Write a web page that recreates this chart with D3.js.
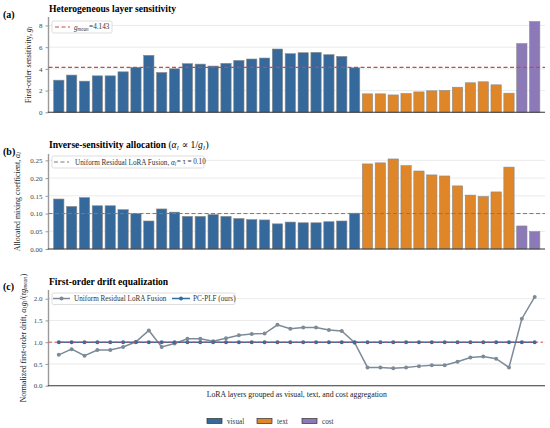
<!doctype html>
<html>
<head>
<meta charset="utf-8">
<script src="https://cdn.jsdelivr.net/npm/d3@7"></script>
<style>
  body { margin: 0; background: #fff; }
  svg { font-family: "Liberation Serif", "DejaVu Serif", serif; }
</style>
</head>
<body>
<svg id="chart" width="550" height="428"></svg>
<script>
// groups of LoRA layers
const groups = ["visual", "text", "cost"];
const groupColors = ["#36699b", "#df8629", "#8c79b7"];
const groupSizes = [24, 12, 2];

// (a) first-order sensitivity g_l
const sensVisual = [2.96, 3.43, 2.87, 3.36, 3.36, 3.73, 4.14, 5.25, 3.67, 4.01, 4.48, 4.44,
                    4.26, 4.51, 4.78, 4.91, 5.00, 5.83, 5.40, 5.49, 5.52, 5.31, 5.15, 4.10];
const sensText = [1.70, 1.70, 1.60, 1.73, 1.88, 1.98, 2.01, 2.31, 2.72, 2.81, 2.53, 1.76];
const sensCost = [6.33, 8.36];
const gMean = 4.143;

// (b) allocated mixing coefficient alpha_l
const alphaVisual = [0.141, 0.120, 0.145, 0.122, 0.122, 0.111, 0.100, 0.079, 0.113, 0.104, 0.092, 0.092,
                     0.097, 0.092, 0.086, 0.083, 0.082, 0.071, 0.076, 0.074, 0.074, 0.077, 0.079, 0.101];
const alphaText = [0.240, 0.243, 0.254, 0.235, 0.220, 0.209, 0.206, 0.178, 0.152, 0.148, 0.161, 0.231];
const alphaCost = [0.065, 0.049];
const tau = 0.10;

// (c) normalized first-order drift
const driftUniform = [0.71, 0.84, 0.69, 0.82, 0.82, 0.89, 1.01, 1.27, 0.89, 0.97, 1.08, 1.08,
                      1.02, 1.09, 1.16, 1.19, 1.20, 1.40, 1.31, 1.34, 1.34, 1.28, 1.26, 0.99,
                      0.42, 0.42, 0.40, 0.42, 0.45, 0.47, 0.47, 0.55, 0.65, 0.67, 0.62, 0.42,
                      1.54, 2.04];
const driftOurs = [1, 1, 1, 1, 1, 1, 1, 1, 1, 1, 1, 1, 1, 1, 1, 1, 1, 1, 1, 1, 1, 1, 1, 1,
                   1, 1, 1, 1, 1, 1, 1, 1, 1, 1, 1, 1, 1, 1];

const svg = d3.select("#chart");
const nLayers = 38;
const x = d3.scaleLinear().domain([-0.8, nLayers - 0.2]).range([48.5, 545]);
const barW = x(0.8) - x(0);

// group of each layer index
let layerGroup = [];
groupSizes.forEach((n, gi) => { for (let k = 0; k < n; k++) layerGroup.push(gi); });

function toRows(v, t, c) {
    return v.concat(t, c).map((val, i) => ({i: i, v: val, g: layerGroup[i]}));
}

function axesFrame(top, bottom, ymax, ticks, fmt) {
    const y = d3.scaleLinear().domain([0, ymax]).range([bottom, top]);
    const g = svg.append("g");
    // grid
    g.selectAll("line.grid").data(ticks).join("line")
        .attr("x1", x.range()[0]).attr("x2", x.range()[1])
        .attr("y1", d => y(d)).attr("y2", d => y(d))
        .attr("stroke", "#e6e6e6").attr("stroke-width", 0.8);
    // y axis
    const ax = g.append("g").attr("transform", `translate(${x.range()[0]},0)`)
        .call(d3.axisLeft(y).tickValues(ticks).tickFormat(fmt).tickSize(3).tickPadding(3));
    ax.select(".domain").remove();
    ax.selectAll(".tick line").attr("stroke", "#999");
    ax.selectAll(".tick text").attr("fill", "#444").attr("font-size", 7)
        .attr("font-family", "Liberation Serif, serif");
    g.append("line").attr("x1", x.range()[0]).attr("x2", x.range()[0])
        .attr("y1", top).attr("y2", bottom).attr("stroke", "#9a9a9a").attr("stroke-width", 1.4);
    return {y: y, g: g, top: top, bottom: bottom};
}

function bottomSpine(p) {
    p.g.append("line").attr("x1", x.range()[0] - 0.7).attr("x2", x.range()[1])
        .attr("y1", p.bottom).attr("y2", p.bottom).attr("stroke", "#3a3a3a").attr("stroke-width", 1.1);
}

function drawBars(p, rows) {
    p.g.selectAll("rect.bar").data(rows).join("rect")
        .attr("x", d => x(d.i) - barW / 2).attr("width", barW)
        .attr("y", d => p.y(d.v)).attr("height", d => p.y(0) - p.y(d.v))
        .attr("fill", d => groupColors[d.g])
        .attr("stroke", "#8a8a8a").attr("stroke-width", 0.6);
}

function title(yb, label, parts) {
    svg.append("text").attr("x", 3).attr("y", yb[0]).attr("font-size", 10)
        .attr("font-weight", "bold").text(label);
    const t = svg.append("text").attr("x", 49).attr("y", yb[1]).attr("font-size", 9.6)
        .attr("font-weight", "bold");
    parts(t);
}

function ylabel(cx, cy, parts) {
    const t = svg.append("text").attr("transform", `translate(${cx},${cy}) rotate(-90)`)
        .attr("text-anchor", "middle").attr("font-size", 7.8).attr("fill", "#222");
    parts(t);
}

// italic base with a small subscript, shifted with dy and shifted back
function sub(t, base, s, italic) {
    t.append("tspan").attr("font-style", italic ? "italic" : null).text(base);
    t.append("tspan").attr("font-style", "italic").attr("font-size", "70%")
        .attr("dy", "0.25em").text(s);
    t.append("tspan").attr("dy", "-0.18em").text("\u200a");
}

function legendBox(x0, y0, w, h) {
    svg.append("rect").attr("x", x0).attr("y", y0).attr("width", w).attr("height", h)
        .attr("rx", 1.5).attr("fill", "#fff").attr("fill-opacity", 0.9)
        .attr("stroke", "#d0d0d0").attr("stroke-width", 0.7);
}

// ---- panel (a)
const pa = axesFrame(17, 112.3, 8.78, [0, 2, 4, 6, 8], d3.format("d"));
drawBars(pa, toRows(sensVisual, sensText, sensCost));
pa.g.append("line").attr("x1", x.range()[0]).attr("x2", x.range()[1])
    .attr("y1", pa.y(gMean)).attr("y2", pa.y(gMean))
    .attr("stroke", "#c9484a").attr("stroke-width", 1.1).attr("stroke-dasharray", "4,2.5");
bottomSpine(pa);
title([18, 12], "(a)", t => t.text("Heterogeneous layer sensitivity"));
ylabel(31, 64.5, t => { t.append("tspan").text("First-order sensitivity, "); sub(t, "g", "l", true); });
legendBox(52, 21, 60, 12);
svg.append("line").attr("x1", 55).attr("x2", 70).attr("y1", 27).attr("y2", 27)
    .attr("stroke", "#c9484a").attr("stroke-width", 1.1).attr("stroke-dasharray", "4,2.5");
{
    const t = svg.append("text").attr("x", 74).attr("y", 29.5).attr("font-size", 7.2).attr("fill", "#333");
    sub(t, "g", "mean", true);
    t.append("tspan").text("=" + gMean.toFixed(3));
}

// ---- panel (b)
const pb = axesFrame(154, 249, 0.268, [0, 0.05, 0.10, 0.15, 0.20, 0.25], d3.format(".2f"));
drawBars(pb, toRows(alphaVisual, alphaText, alphaCost));
pb.g.append("line").attr("x1", x.range()[0]).attr("x2", x.range()[1])
    .attr("y1", pb.y(tau)).attr("y2", pb.y(tau))
    .attr("stroke", "#7a7a7a").attr("stroke-width", 1.0).attr("stroke-dasharray", "4,2.5");
bottomSpine(pb);
title([155, 148], "(b)", t => {
    t.append("tspan").text("Inverse-sensitivity allocation ");
    const m = t.append("tspan").attr("font-weight", "normal");
    m.append("tspan").text("(");
    sub(m, "α", "l", true);
    m.append("tspan").text(" ∝ 1/");
    sub(m, "g", "l", true);
    m.append("tspan").text(")");
});
ylabel(20, 201.5, t => { t.append("tspan").text("Allocated mixing coefficient, "); sub(t, "α", "l", true); });
legendBox(52, 156, 152, 12);
svg.append("line").attr("x1", 54).attr("x2", 69).attr("y1", 162).attr("y2", 162)
    .attr("stroke", "#7a7a7a").attr("stroke-width", 1.0).attr("stroke-dasharray", "4,2.5");
{
    const t = svg.append("text").attr("x", 75).attr("y", 164.5).attr("font-size", 7.2).attr("fill", "#333");
    t.append("tspan").text("Uniform Residual LoRA Fusion, ");
    sub(t, "α", "l", true);
    t.append("tspan").text("= τ = " + tau.toFixed(2));
}

// ---- panel (c)
const pc = axesFrame(290, 385.7, 2.2, [0, 0.5, 1.0, 1.5, 2.0], d3.format(".1f"));
const line = d3.line().x((d, i) => x(i)).y(d => pc.y(d));
const uniColor = "#7d8a98", oursColor = "#2f6ea3";
pc.g.append("path").datum(driftUniform).attr("d", line)
    .attr("fill", "none").attr("stroke", uniColor).attr("stroke-width", 1.5);
pc.g.selectAll("circle.uni").data(driftUniform).join("circle")
    .attr("cx", (d, i) => x(i)).attr("cy", d => pc.y(d)).attr("r", 2).attr("fill", uniColor);
pc.g.append("path").datum(driftOurs).attr("d", line)
    .attr("fill", "none").attr("stroke", oursColor).attr("stroke-width", 1.5);
pc.g.selectAll("circle.ours").data(driftOurs).join("circle")
    .attr("cx", (d, i) => x(i)).attr("cy", d => pc.y(d)).attr("r", 2).attr("fill", oursColor);
pc.g.append("line").attr("x1", x.range()[0]).attr("x2", x.range()[1] - 2)
    .attr("y1", pc.y(1)).attr("y2", pc.y(1))
    .attr("stroke", "#d9464a").attr("stroke-width", 0.9).attr("stroke-dasharray", "3.5,2.5");
bottomSpine(pc);
title([290, 285], "(c)", t => t.text("First-order drift equalization"));
ylabel(26, 338, t => {
    t.append("tspan").text("Normalized first-order drift, ");
    sub(t, "α", "l", true);
    sub(t, "g", "l", true);
    t.append("tspan").text("/(");
    t.append("tspan").attr("font-style", "italic").text("τ");
    sub(t, "g", "mean", true);
    t.append("tspan").text(")");
});
svg.append("text").attr("x", x.range()[0] / 2 + x.range()[1] / 2).attr("y", 397)
    .attr("text-anchor", "middle").attr("font-size", 7.8).attr("fill", "#222")
    .text("LoRA layers grouped as visual, text, and cost aggregation");
legendBox(52, 293, 183, 11.5);
[[53, 70, uniColor, 74, "Uniform Residual LoRA Fusion"], [172, 190, oursColor, 193, "PC-PLF (ours)"]].forEach(r => {
    svg.append("line").attr("x1", r[0]).attr("x2", r[1]).attr("y1", 298.5).attr("y2", 298.5)
        .attr("stroke", r[2]).attr("stroke-width", 1.5);
    svg.append("circle").attr("cx", (r[0] + r[1]) / 2).attr("cy", 298.5).attr("r", 2).attr("fill", r[2]);
    svg.append("text").attr("x", r[3]).attr("y", 301).attr("font-size", 7.2).attr("fill", "#333").text(r[4]);
});

// ---- bottom legend
const legX = [207, 257, 302];
groups.forEach((name, gi) => {
    svg.append("rect").attr("x", legX[gi]).attr("y", 418.5).attr("width", 15).attr("height", 5)
        .attr("fill", groupColors[gi]).attr("stroke", "#333").attr("stroke-width", 0.7);
    svg.append("text").attr("x", legX[gi] + 20).attr("y", 423.5).attr("font-size", 7.2)
        .attr("fill", "#333").text(name);
});
</script>
</body>
</html>
